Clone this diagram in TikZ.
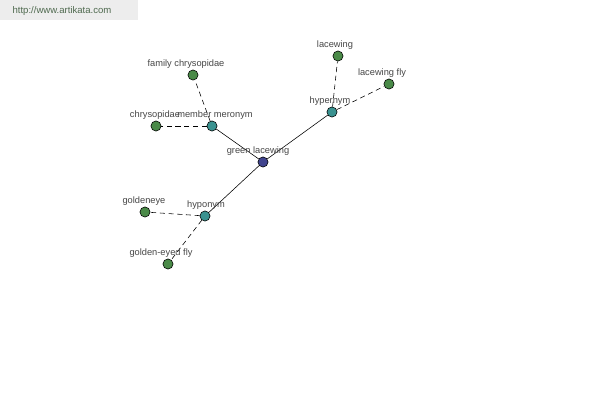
\documentclass[tikz,border=0pt]{standalone}
\usepackage{fontspec}
\setmainfont{Liberation Sans}
\definecolor{leafgreen}{HTML}{4A8A48}
\definecolor{relteal}{HTML}{3A9290}
\definecolor{rootblue}{HTML}{40448E}
\definecolor{labelgray}{HTML}{474747}
\definecolor{bannergray}{HTML}{EDEDED}
\definecolor{bannertext}{HTML}{4F6A4F}
\tikzset{
  dot/.style={circle, draw=black, line width=0.4pt, inner sep=0pt, minimum size=7.2pt},
  leaf/.style={dot, fill=leafgreen},
  rel/.style={dot, fill=relteal},
  root/.style={dot, fill=rootblue},
  lbl/.style={inner sep=0pt, text=labelgray, font=\fontsize{6.6}{8}\selectfont},
  link/.style={line width=0.4pt},
  weak/.style={line width=0.4pt, dash pattern=on 3.6pt off 2.6pt}
}
\begin{document}
\begin{tikzpicture}[x=0.025cm, y=-0.025cm]
		\useasboundingbox (0,0) rectangle (600,400);
		\fill [white] (0,0) rectangle (600,400);
		
		%Banner
		\fill [bannergray] (0,0) rectangle (138,20);
		\node [inner sep=0pt, text=bannertext, font=\fontsize{6.8}{8}\selectfont] (site) at (62,11) {http://www.artikata.com};
		
		%Nodos
		\node [root] (green) at (263,162) {};
		\node [rel] (meronym) at (212,126) {};
		\node [rel] (hypernym) at (332,112) {};
		\node [rel] (hyponym) at (205,216) {};
		\node [leaf] (chrysopidae) at (156,126) {};
		\node [leaf] (family) at (193,75) {};
		\node [leaf] (lacewing) at (338,56) {};
		\node [leaf] (lacewingfly) at (389,84) {};
		\node [leaf] (goldeneye) at (145,212) {};
		\node [leaf] (goldenfly) at (168,264) {};
		
		%Aristas
		\draw [link] (green)--(meronym);
		\draw [link] (green)--(hypernym);
		\draw [link] (green)--(hyponym);
		\draw [weak] (meronym)--(chrysopidae);
		\draw [weak] (meronym)--(family);
		\draw [weak] (hypernym)--(lacewing);
		\draw [weak] (hypernym)--(lacewingfly);
		\draw [weak] (hyponym)--(goldeneye);
		\draw [weak] (hyponym)--(goldenfly);
		
		%Etiquetas
		\node [lbl] (greenlbl) at (258,151) {green lacewing};
		\node [lbl] (meronymlbl) at (215,115) {member meronym};
		\node [lbl] (hypernymlbl) at (330,101) {hypernym};
		\node [lbl] (hyponymlbl) at (206,205) {hyponym};
		\node [lbl] (chrysopidaelbl) at (155,115) {chrysopidae};
		\node [lbl] (familylbl) at (186,64) {family chrysopidae};
		\node [lbl] (lacewinglbl) at (335,45) {lacewing};
		\node [lbl] (lacewingflylbl) at (382,73) {lacewing fly};
		\node [lbl] (goldeneyelbl) at (144,201) {goldeneye};
		\node [lbl] (goldenflylbl) at (161,253) {golden-eyed fly};
	\end{tikzpicture}
\end{document}
